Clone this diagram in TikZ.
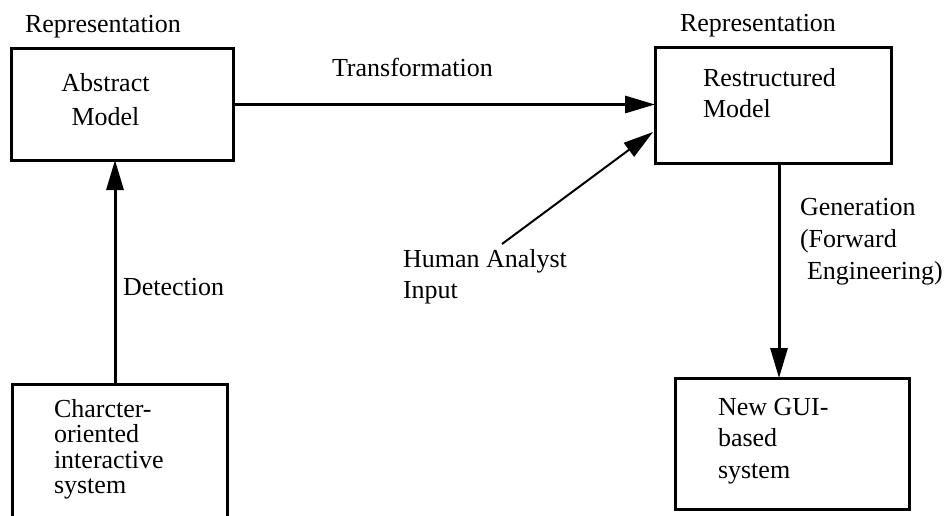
\documentclass[tikz,border=0pt]{standalone}
\usepackage{fontspec}
\setmainfont{Liberation Serif}
\usetikzlibrary{arrows.meta}
\tikzset{
  box/.style={draw, line width=3pt, inner sep=0pt, outer sep=0pt},
  lbl/.style={inner sep=0pt, outer sep=0pt, anchor=base west, font=\fontsize{26}{31}\selectfont},
  arr/.style={line width=3pt, -{Triangle[length=30pt,width=17pt]}},
  thinarr/.style={line width=2pt, -{Triangle[length=30pt,width=17pt]}}
}
\begin{document}
\begin{tikzpicture}[x=1pt,y=-1pt]
\useasboundingbox (0,0) rectangle (947,516);
% boxes
\node[box, minimum width=222pt, minimum height=111pt] (A) at (122,104.5) {};
\node[box, minimum width=236pt, minimum height=115pt] (R) at (773,105.5) {};
\node[box, minimum width=215pt, minimum height=150pt] (C) at (119.5,459) {};
\node[box, minimum width=234pt, minimum height=131pt] (G) at (792,443.5) {};
% texts
\node[lbl] (rep1) at (25,33) {Representation};
\node[lbl] (rep2) at (680,32) {Representation};
\node[lbl, anchor=base] (At) at (105.5,92) {\fontsize{26}{34}\selectfont\begin{tabular}[t]{@{}c@{}}Abstract\\Model\end{tabular}};
\node[lbl] (Rt) at (703,87) {\begin{tabular}[t]{@{}l@{}}Restructured\\Model\end{tabular}};
\node[lbl] (Ct) at (54,417) {\fontsize{26}{25.5}\selectfont\begin{tabular}[t]{@{}l@{}}Charcter-\\oriented\\interactive\\system\end{tabular}};
\node[lbl] (Gt) at (718,415) {\fontsize{26}{31.5}\selectfont\begin{tabular}[t]{@{}l@{}}New GUI-\\based\\system\end{tabular}};
\node[lbl] (trans) at (332,77) {Transformation};
\node[lbl] (det) at (123,295) {Detection};
\node[lbl] (gen) at (800,215) {\fontsize{26}{32}\selectfont\begin{tabular}[t]{@{}l@{}}Generation\\(Forward\\\hspace{7pt}Engineering)\end{tabular}};
\node[lbl] (hum) at (403,267) {\begin{tabular}[t]{@{}l@{}}Human Analyst\\Input\end{tabular}};
% connectors
\coordinate (c1) at (115,384);
\coordinate (g1) at (779,163);
\coordinate (h1) at (502,244);
\draw[arr] (A.east) -- (R.west |- A.east);
\draw[arr] (c1) -- (c1 |- A.south);
\draw[arr] (g1) -- (g1 |- G.north);
\draw[thinarr] (h1) -- ([xshift=-2pt,yshift=-26.5pt]R.west);
\end{tikzpicture}
\end{document}
